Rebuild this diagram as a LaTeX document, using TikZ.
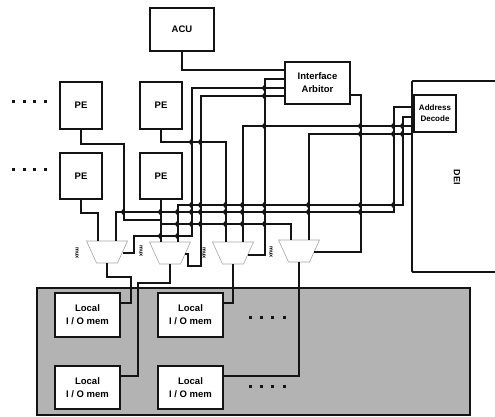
\documentclass[tikz,border=0pt]{standalone}
\usepackage{fontspec}
\setmainfont{Liberation Sans}
\definecolor{panel}{HTML}{B3B3B3}
\definecolor{ink}{HTML}{141414}
\tikzset{
  wire/.style={draw=ink,line width=1.9pt},
  box/.style={draw=ink,line width=1.9pt,fill=white,anchor=north west,inner sep=0pt,outer sep=0pt,align=center,font=\bfseries\fontsize{9.5}{13}\selectfont},
  muxcore/.style={minimum width=21pt,minimum height=22pt,inner sep=0pt,outer sep=0pt},
  muxline/.style={draw=gray!70,line width=0.6pt},
  muxlabel/.style={rotate=-90,font=\bfseries\fontsize{5.5}{6}\selectfont,inner sep=0pt}
}
\newcommand{\muxat}[3]{%
  \node[muxcore] (#1) at (#2,#3) {};
  \draw[muxline] (#2-20.5,#3-11) -- (#2+20.5,#3-11) -- (#2+10.5,#3+11) -- (#2-10.5,#3+11) -- cycle;
}
\newcommand{\hopat}[2]{%
  \fill[ink] (#1,#2-3.6) .. controls (#1-3.8,#2-1.4) and (#1-3.8,#2+1.4) .. (#1,#2+3.6) -- cycle;
}
\begin{document}
\begin{tikzpicture}[x=1pt,y=-1pt]
\useasboundingbox (0,0) rectangle (495,416);
\fill[panel] (37,288) rectangle (470,415);
\draw[wire] (37,288) rectangle (470,415);

% boxes
\node[box,minimum width=64pt,minimum height=43pt] (acu) at (150,8) {ACU};
\node[box,minimum width=65pt,minimum height=42pt] (arb) at (285,62) {Interface\\Arbitor};
\node[box,minimum width=42pt,minimum height=47pt] (pea) at (60,82) {PE};
\node[box,minimum width=42pt,minimum height=47pt] (peb) at (140,82) {PE};
\node[box,minimum width=42pt,minimum height=46pt] (pec) at (60,153) {PE};
\node[box,minimum width=42pt,minimum height=46pt] (ped) at (140,153) {PE};
\node[box,minimum width=65pt,minimum height=44pt] (mema) at (55,293) {Local\\I / O mem};
\node[box,minimum width=65pt,minimum height=44pt] (memb) at (158,293) {Local\\I / O mem};
\node[box,minimum width=65pt,minimum height=43pt] (memc) at (55,366) {Local\\I / O mem};
\node[box,minimum width=65pt,minimum height=43pt] (memd) at (158,366) {Local\\I / O mem};

% DEI
\draw[wire,rounded corners=1pt] (500,81) -- (412,81) -- (412,272) -- (500,272);
\node[rotate=-90,inner sep=0pt,font=\bfseries\fontsize{9}{10}\selectfont] (dei) at (457,177) {DEI};

% muxes
\muxat{muxa}{107}{252}
\muxat{muxb}{170}{253}
\muxat{muxc}{233}{253}
\muxat{muxd}{299}{251}
\node[muxlabel] (la) at (77,253) {mux};
\node[muxlabel] (lb) at (141,251) {mux};
\node[muxlabel] (lc) at (204,253) {mux};
\node[muxlabel] (ld) at (271,252) {mux};

% ports
\coordinate (arbA) at (285,70);
\coordinate (arbB) at (285,79);
\coordinate (arbC) at (285,88);
\coordinate (arbD) at (285,96);
\coordinate (arbE) at (350,95);
\coordinate (adA) at (414,107);
\coordinate (adB) at (414,117);
\coordinate (deiA) at (412,126);
\coordinate (deiB) at (412,134);
\coordinate (a1) at (98,241);
\coordinate (a2) at (116,241);
\coordinate (a3) at (123,253);
\coordinate (b1) at (161,242);
\coordinate (b2) at (178,242);
\coordinate (b3) at (185,254);
\coordinate (c1) at (226,242);
\coordinate (c2) at (243,242);
\coordinate (c3) at (248,255);
\coordinate (d1) at (291,240);
\coordinate (d2) at (309,240);
\coordinate (d3) at (314,252);
\coordinate (tap) at (161,224);
\coordinate (mA) at (120,303);
\coordinate (mB) at (223,303);
\coordinate (mC) at (120,376);
\coordinate (mD) at (223,376);

% wires
\draw[wire] (acu.south) |- (arbA);
\draw[wire] (arbB) -| (265,255) -- (c3);
\draw[wire] (arbC) -| (192,236) -| (134,253) -- (a3);
\draw[wire] (arbD) -| (201,266) -| (188,254) -- (b3);
\draw[wire] (arbE) -| (361,252) -- (d3);
\draw[wire] (adA) -| (394,212) -| (a2);
\draw[wire] (adB) -| (403,205) -| (b2);
\draw[wire] (deiA) -| (c2);
\draw[wire] (deiB) -| (d2);
\draw[wire] (pea.south) |- (124,144) |- (161,220);
\draw[wire] (peb.south) |- (226,142) -- (c1);
\draw[wire] (pec.south) |- (98,213) -- (a1);
\draw[wire] (ped.south) -- (b1);
\draw[wire] (tap) -| (d1);
\draw[wire] (muxa.south) |- (131,277) |- (mA);
\draw[wire] (muxb.south) |- (138,283) |- (mC);
\draw[wire] (muxc.south) |- (mB);
\draw[wire] (muxd.south) |- (mD);

\node[box,minimum width=42pt,minimum height=37pt,font=\bfseries\fontsize{8}{11}\selectfont] (dec) at (414,95) {Address\\Decode};

% crossings
\foreach \yy in {88,96,126,205,212,224} {\hopat{265}{\yy}}
\foreach \yy in {142,205,212,224} {\hopat{192}{\yy}\hopat{201}{\yy}}
\foreach \yy in {205,212,224} {\hopat{226}{\yy}\hopat{243}{\yy}}
\foreach \yy in {205,212} {\hopat{309}{\yy}}
\foreach \yy in {126,134,205,212} {\hopat{361}{\yy}}
\foreach \yy in {126,134,205} {\hopat{394}{\yy}}
\foreach \yy in {126,134} {\hopat{403}{\yy}}
\foreach \yy in {212,236} {\hopat{161}{\yy}}
\foreach \yy in {212,224,236} {\hopat{178}{\yy}}
\hopat{124}{212}

% dots
\foreach \xx/\yy in {13/101,24/101,34/101,45/101,13/169,24/169,34/169,45/169,250/317,261/317,272/317,284/317,250/386,261/386,272/386,284/386}
  {\fill[ink] (\xx-1.5,\yy-1.5) rectangle (\xx+1.5,\yy+1.5);}
\end{tikzpicture}
\end{document}
